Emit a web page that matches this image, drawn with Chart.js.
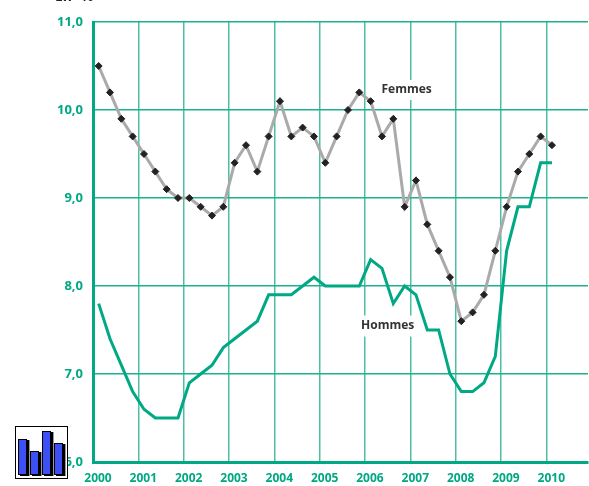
<!DOCTYPE html>
<html>
<head>
<meta charset="utf-8">
<style>
  html, body { margin: 0; padding: 0; background: #fff; }
  #wrap { position: relative; width: 589px; height: 486px; overflow: hidden; }
  #unit { position: absolute; left: 55px; top: -14px; font: 700 14px "Open Sans"; word-spacing: 5px; color: #222; }
  #icon { position: absolute; left: 15px; top: 426px; width: 53px; height: 53px; border: 1px solid #000; background: #fff; box-sizing: border-box; }
  #icon div { position: absolute; bottom: 3px; width: 9px; background: #3d50f5; border: 1px solid #000; box-sizing: border-box; box-shadow: 2px 1px 0 #000, 3px 1px 0 #999; }
</style>
</head>
<body>
<div id="wrap">
  <canvas id="line_chart" width="593" height="486"></canvas>
  <div id="unit">En %</div>
  <div id="icon">
    <div style="left:2px;height:36px"></div>
    <div style="left:14px;height:24px"></div>
    <div style="left:26px;height:44px"></div>
    <div style="left:38px;height:32px"></div>
  </div>
</div>
<script src="https://cdn.jsdelivr.net/npm/chart.js@4"></script>
<script>
const years = [2000, 2001, 2002, 2003, 2004, 2005, 2006, 2007, 2008, 2009, 2010];
const yLabels = ['6,0', '7,0', '8,0', '9,0', '10,0', '11,0'];
// trimestres, de 2000 T1 a 2010 T1
const quarters = [
  2000.125, 2000.375, 2000.625, 2000.875, 2001.125, 2001.375, 2001.625, 2001.875,
  2002.125, 2002.375, 2002.625, 2002.875, 2003.125, 2003.375, 2003.625, 2003.875,
  2004.125, 2004.375, 2004.625, 2004.875, 2005.125, 2005.375, 2005.625, 2005.875,
  2006.125, 2006.375, 2006.625, 2006.875, 2007.125, 2007.375, 2007.625, 2007.875,
  2008.125, 2008.375, 2008.625, 2008.875, 2009.125, 2009.375, 2009.625, 2009.875,
  2010.125
];
const femmes = [
  10.5, 10.2, 9.9, 9.7, 9.5, 9.3, 9.1, 9.0,
  9.0, 8.9, 8.8, 8.9, 9.4, 9.6, 9.3, 9.7,
  10.1, 9.7, 9.8, 9.7, 9.4, 9.7, 10.0, 10.2,
  10.1, 9.7, 9.9, 8.9, 9.2, 8.7, 8.4, 8.1,
  7.6, 7.7, 7.9, 8.4, 8.9, 9.3, 9.5, 9.7,
  9.6
];
const hommes = [
  7.8, 7.4, 7.1, 6.8, 6.6, 6.5, 6.5, 6.5,
  6.9, 7.0, 7.1, 7.3, 7.4, 7.5, 7.6, 7.9,
  7.9, 7.9, 8.0, 8.1, 8.0, 8.0, 8.0, 8.0,
  8.3, 8.2, 7.8, 8.0, 7.9, 7.5, 7.5, 7.0,
  6.8, 6.8, 6.9, 7.2, 8.4, 8.9, 8.9, 9.4,
  9.4
];

const green = '#00a884';
const gridV = '#4dbfa3';
const gridH = '#1fb08f';

function toPoints(values) {
  return values.map((v, i) => ({ x: quarters[i], y: v }));
}

// libelles des series : le fond blanc coupe la grille, le texte passe au-dessus
const seriesTexts = [
  { text: 'Femmes', x: 2006.92, y: 10.227, w: 54, h: 20 },
  { text: 'Hommes', x: 2006.5, y: 7.545, w: 58, h: 21 }
];
const seriesLabels = {
  id: 'seriesLabels',
  beforeDatasetsDraw(chart) {
    const { ctx, scales } = chart;
    ctx.save();
    ctx.fillStyle = '#fff';
    seriesTexts.forEach(t => {
      const px = scales.x.getPixelForValue(t.x), py = scales.y.getPixelForValue(t.y);
      ctx.fillRect(px - t.w / 2, py - t.h / 2, t.w, t.h);
    });
    ctx.restore();
  },
  afterDatasetsDraw(chart) {
    const { ctx, scales } = chart;
    ctx.save();
    ctx.font = '700 12px "Open Sans"';
    ctx.fillStyle = '#333';
    ctx.textAlign = 'center';
    ctx.textBaseline = 'middle';
    seriesTexts.forEach(t => {
      ctx.fillText(t.text, scales.x.getPixelForValue(t.x), scales.y.getPixelForValue(t.y));
    });
    ctx.restore();
  }
};

const ctx = document.getElementById('line_chart').getContext('2d');
new Chart(ctx, {
  type: 'line',
  data: {
    datasets: [
      {
        label: 'Hommes',
        data: toPoints(hommes),
        borderColor: green,
        borderWidth: 3,
        pointRadius: 0,
        tension: 0,
        order: 2
      },
      {
        label: 'Femmes',
        data: toPoints(femmes),
        borderColor: '#aaaaaa',
        borderWidth: 3,
        pointStyle: 'rectRot',
        pointRadius: 3.5,
        pointBorderWidth: 1,
        pointBackgroundColor: '#222',
        pointBorderColor: '#222',
        tension: 0,
        order: 1
      }
    ]
  },
  options: {
    responsive: false,
    animation: false,
    layout: { padding: { left: 0, right: 0, top: 22, bottom: 0 } },
    plugins: { legend: { display: false }, tooltip: { enabled: false } },
    scales: {
      x: {
        type: 'linear',
        min: 2000,
        max: 2010.92,
        afterBuildTicks(axis) { axis.ticks = years.map(v => ({ value: v })); },
        afterFit(axis) { axis.height = 24; },
        grid: { color: gridV, lineWidth: 1.5, tickLength: 0 },
        border: { color: green, width: 3 },
        ticks: {
          color: green,
          font: { family: 'Open Sans', size: 12, weight: '700' },
          autoSkip: false,
          maxRotation: 0,
          padding: 9,
          labelOffset: 5,
          callback: v => String(v)
        }
      },
      y: {
        min: 6,
        max: 11,
        afterFit(axis) { axis.width = 93; },
        grid: { color: gridH, lineWidth: 1.5, tickLength: 0 },
        border: { color: green, width: 3 },
        ticks: {
          stepSize: 1,
          color: green,
          font: { family: 'Open Sans', size: 13, weight: '700' },
          padding: 10,
          callback: v => yLabels[v - 6]
        }
      }
    }
  },
  plugins: [seriesLabels]
});
</script>
</body>
</html>
